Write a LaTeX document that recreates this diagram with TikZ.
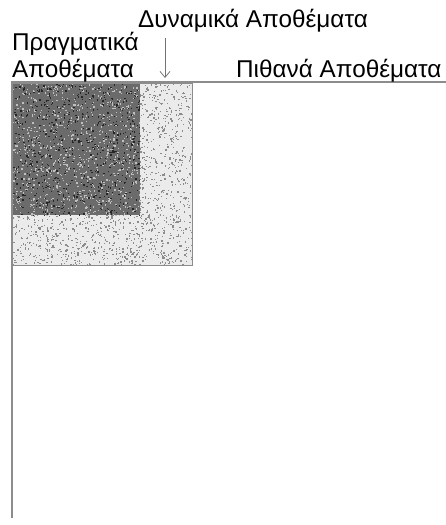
\documentclass[tikz,border=0pt]{standalone}
\usepackage{fontspec}
\setmainfont{Liberation Sans}
\usetikzlibrary{arrows.meta}
\begin{document}
\begin{tikzpicture}[x=1pt,y=-1pt,
  lbl/.style={anchor=base west,inner sep=0pt,font=\fontsize{24.3}{28}\selectfont},
  axis/.style={draw=black!45,line width=1.5pt},
  box/.style={draw=black!45,line width=0.8pt}]
\useasboundingbox (0,0) rectangle (446,525);
\pgfmathsetseed{7}
% light stippled region
\fill[black!8] (12,83) rectangle (192,265);
\begin{scope}
\clip (12,83) rectangle (192,265);
\foreach \i in {1,...,2400}{
  \pgfmathsetmacro{\px}{12+180*rnd}
  \pgfmathsetmacro{\py}{83+182*rnd}
  \fill[black!45] (\px,\py) rectangle ++(1.3,1.3);
}
\end{scope}
% dark stippled region
\fill[black!58] (12,83) rectangle (140,215);
\begin{scope}
\clip (12,83) rectangle (140,215);
\foreach \i in {1,...,900}{
  \pgfmathsetmacro{\px}{12+128*rnd}
  \pgfmathsetmacro{\py}{83+132*rnd}
  \fill[black!25] (\px,\py) rectangle ++(1.3,1.3);
}
\foreach \i in {1,...,700}{
  \pgfmathsetmacro{\px}{12+128*rnd}
  \pgfmathsetmacro{\py}{83+132*rnd}
  \fill[black!85] (\px,\py) rectangle ++(1.3,1.3);
}
\end{scope}
\draw[box] (12,83) rectangle (192,265);
\draw[axis] (12,518) -- (12,82) -- (446,82);
\node[lbl] (dyn) at (138,27) {Δυναμικά Αποθέματα};
\node[lbl] (prag1) at (12,50) {Πραγματικά};
\node[lbl] (prag2) at (12,77) {Αποθέματα};
\node[lbl] (pith) at (236,77) {Πιθανά Αποθέματα};
\coordinate (astart) at (165,38);
\coordinate (aend) at (165,78);
\draw[black!55,line width=0.8pt,-{Straight Barb[length=6pt,width=10pt]}] (astart) -- (aend);
\end{tikzpicture}
\end{document}
